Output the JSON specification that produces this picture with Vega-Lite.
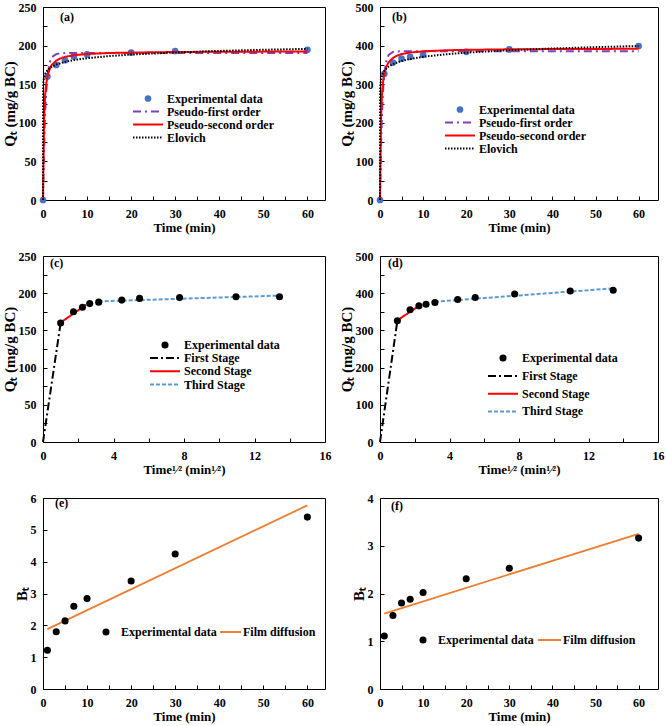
{
  "$schema": "https://vega.github.io/schema/vega-lite/v6.json",
  "background": "white",
  "padding": {"left": 1, "top": 0, "right": 0, "bottom": 0},
  "config": {
    "font": "Liberation Serif",
    "view": {"stroke": "black", "strokeWidth": 1},
    "axis": {
      "labelFont": "Liberation Serif", "labelFontWeight": "bold", "labelFontSize": 12, "labelColor": "black",
      "titleFont": "Liberation Serif", "titleFontWeight": "bold", "titleFontSize": 13, "titleColor": "black",
      "domain": false, "tickColor": "black", "tickSize": 4, "tickWidth": 1, "offset": -4, "grid": false,
      "labelFlush": false, "labelOverlap": false
    },
    "axisX": {"labelPadding": 8, "titlePadding": 2},
    "axisY": {"labelPadding": 7, "titlePadding": 1, "titleFontSize": 15},
    "legend": {
      "labelFont": "Liberation Serif", "labelFontWeight": "bold", "labelFontSize": 12, "labelColor": "black",
      "padding": 0, "orient": "none", "title": null
    },
    "title": {
      "font": "Liberation Serif", "fontWeight": "bold", "fontSize": 12, "color": "black",
      "anchor": "start", "frame": "group", "baseline": "top", "offset": 0
    }
  },
  "columns": 2,
  "bounds": "flush",
  "spacing": {"row": 56, "column": 55},
  "resolve": {
    "scale": {"x": "independent", "y": "independent", "fill": "independent", "stroke": "independent", "strokeDash": "independent"},
    "axis": {"x": "independent", "y": "independent"},
    "legend": {"fill": "independent", "stroke": "independent", "strokeDash": "independent"}
  },
  "concat": [
    {
      "width": 282, "height": 193,
      "title": {"text": "(a)", "dx": 17, "dy": 27},
      "layer": [
        {
          "data": {"values": [
            {"s": "Experimental data", "t": 0, "q": 0},
            {"s": "Experimental data", "t": 1, "q": 160},
            {"s": "Experimental data", "t": 3, "q": 175},
            {"s": "Experimental data", "t": 5, "q": 181},
            {"s": "Experimental data", "t": 7, "q": 186},
            {"s": "Experimental data", "t": 10, "q": 188.5},
            {"s": "Experimental data", "t": 20, "q": 191},
            {"s": "Experimental data", "t": 30, "q": 193},
            {"s": "Experimental data", "t": 60, "q": 194.5}
          ]},
          "mark": {"type": "point", "filled": true, "size": 45, "opacity": 1},
          "encoding": {
            "x": {"field": "t", "type": "quantitative", "scale": {"domain": [0, 64], "nice": false},
                  "axis": {"title": "Time (min)", "tickCount": 100, "format": "d", "labelOverlap": false, "values": [0,5,10,15,20,25,30,35,40,45,50,55,60], "labelExpr": "datum.value % 10 == 0 ? datum.label : ''"}},
            "y": {"field": "q", "type": "quantitative", "scale": {"domain": [0, 250], "nice": false},
                  "axis": {"title": "Qₜ (mg/g BC)", "tickCount": 100, "format": "d", "labelOverlap": false, "values": [0,25,50,75,100,125,150,175,200,225,250], "labelExpr": "datum.value % 50 == 0 ? datum.label : ''"}},
            "fill": {"field": "s", "type": "nominal", "scale": {"domain": ["Experimental data"], "range": ["#4472C4"]},
                     "legend": {"legendX": 99, "legendY": 85, "symbolType": "circle", "symbolSize": 45, "clipHeight": 13, "labelOffset": 13}}
          }
        },
        {
          "data": {"values": [
            {"s": "Pseudo-first order", "t": 0, "q": 0},
            {"s": "Pseudo-first order", "t": 0.25, "q": 70},
            {"s": "Pseudo-first order", "t": 0.5, "q": 115},
            {"s": "Pseudo-first order", "t": 0.75, "q": 142},
            {"s": "Pseudo-first order", "t": 1, "q": 160},
            {"s": "Pseudo-first order", "t": 1.5, "q": 178},
            {"s": "Pseudo-first order", "t": 2, "q": 185},
            {"s": "Pseudo-first order", "t": 3, "q": 189},
            {"s": "Pseudo-first order", "t": 4, "q": 190},
            {"s": "Pseudo-first order", "t": 6, "q": 190.5},
            {"s": "Pseudo-first order", "t": 60, "q": 190.5},
            {"s": "Pseudo-second order", "t": 0, "q": 0},
            {"s": "Pseudo-second order", "t": 0.25, "q": 106},
            {"s": "Pseudo-second order", "t": 0.5, "q": 137},
            {"s": "Pseudo-second order", "t": 0.75, "q": 151},
            {"s": "Pseudo-second order", "t": 1, "q": 160},
            {"s": "Pseudo-second order", "t": 1.5, "q": 169.7},
            {"s": "Pseudo-second order", "t": 2, "q": 175},
            {"s": "Pseudo-second order", "t": 3, "q": 180.6},
            {"s": "Pseudo-second order", "t": 4, "q": 183.5},
            {"s": "Pseudo-second order", "t": 5, "q": 185.4},
            {"s": "Pseudo-second order", "t": 7, "q": 187.5},
            {"s": "Pseudo-second order", "t": 10, "q": 189.1},
            {"s": "Pseudo-second order", "t": 15, "q": 190.4},
            {"s": "Pseudo-second order", "t": 20, "q": 191},
            {"s": "Pseudo-second order", "t": 30, "q": 191.7},
            {"s": "Pseudo-second order", "t": 40, "q": 192},
            {"s": "Pseudo-second order", "t": 50, "q": 192.2},
            {"s": "Pseudo-second order", "t": 60, "q": 192.3},
            {"s": "Elovich", "t": 0, "q": 0},
            {"s": "Elovich", "t": 0.02, "q": 141.4},
            {"s": "Elovich", "t": 0.05, "q": 147.6},
            {"s": "Elovich", "t": 0.1, "q": 152.3},
            {"s": "Elovich", "t": 0.2, "q": 157},
            {"s": "Elovich", "t": 0.5, "q": 163.3},
            {"s": "Elovich", "t": 1, "q": 168},
            {"s": "Elovich", "t": 2, "q": 172.7},
            {"s": "Elovich", "t": 3, "q": 175.5},
            {"s": "Elovich", "t": 5, "q": 178.9},
            {"s": "Elovich", "t": 7, "q": 181.2},
            {"s": "Elovich", "t": 10, "q": 183.7},
            {"s": "Elovich", "t": 15, "q": 186.4},
            {"s": "Elovich", "t": 20, "q": 188.4},
            {"s": "Elovich", "t": 30, "q": 191.1},
            {"s": "Elovich", "t": 40, "q": 193.1},
            {"s": "Elovich", "t": 50, "q": 194.6},
            {"s": "Elovich", "t": 60, "q": 195.8}
          ]},
          "mark": {"type": "line", "strokeWidth": 2},
          "encoding": {
            "x": {"field": "t", "type": "quantitative", "scale": {"domain": [0, 64], "nice": false}},
            "y": {"field": "q", "type": "quantitative", "scale": {"domain": [0, 250], "nice": false}},
            "stroke": {"field": "s", "type": "nominal", "scale": {"domain": ["Pseudo-first order", "Pseudo-second order", "Elovich"], "range": ["#7F3FBF", "#FF0000", "#000000"]},
                       "legend": {"legendX": 89, "legendY": 98, "symbolType": "stroke", "symbolSize": 900, "symbolStrokeWidth": 2, "clipHeight": 13, "rowPadding": 0, "labelOffset": 3}},
            "strokeDash": {"field": "s", "type": "nominal", "scale": {"domain": ["Pseudo-first order", "Pseudo-second order", "Elovich"], "range": [[8, 4, 2, 4], [1, 0], [1.5, 1.5]]},
                       "legend": {"legendX": 89, "legendY": 98, "symbolType": "stroke", "symbolSize": 900, "symbolStrokeWidth": 2, "clipHeight": 13, "rowPadding": 0, "labelOffset": 3}}
          }
        }
      ]
    },
    {
      "width": 278, "height": 193,
      "title": {"text": "(b)", "dx": 12, "dy": 27},
      "layer": [
        {
          "data": {"values": [
            {"s": "Experimental data", "t": 0, "q": 0},
            {"s": "Experimental data", "t": 1, "q": 327},
            {"s": "Experimental data", "t": 3, "q": 356},
            {"s": "Experimental data", "t": 5, "q": 366},
            {"s": "Experimental data", "t": 7, "q": 371},
            {"s": "Experimental data", "t": 10, "q": 376},
            {"s": "Experimental data", "t": 20, "q": 384},
            {"s": "Experimental data", "t": 30, "q": 390},
            {"s": "Experimental data", "t": 60, "q": 399}
          ]},
          "mark": {"type": "point", "filled": true, "size": 45, "opacity": 1},
          "encoding": {
            "x": {"field": "t", "type": "quantitative", "scale": {"domain": [0, 64.5], "nice": false},
                  "axis": {"title": "Time (min)", "tickCount": 100, "format": "d", "labelOverlap": false, "values": [0,5,10,15,20,25,30,35,40,45,50,55,60], "labelExpr": "datum.value % 10 == 0 ? datum.label : ''"}},
            "y": {"field": "q", "type": "quantitative", "scale": {"domain": [0, 500], "nice": false},
                  "axis": {"title": "Qₜ (mg/g BC)", "tickCount": 100, "format": "d", "labelOverlap": false, "values": [0,50,100,150,200,250,300,350,400,450,500], "labelExpr": "datum.value % 100 == 0 ? datum.label : ''"}},
            "fill": {"field": "s", "type": "nominal", "scale": {"domain": ["Experimental data"], "range": ["#4472C4"]},
                     "legend": {"legendX": 74, "legendY": 96, "symbolType": "circle", "symbolSize": 45, "clipHeight": 13, "labelOffset": 13}}
          }
        },
        {
          "data": {"values": [
            {"s": "Pseudo-first order", "t": 0, "q": 0},
            {"s": "Pseudo-first order", "t": 0.25, "q": 145},
            {"s": "Pseudo-first order", "t": 0.5, "q": 235},
            {"s": "Pseudo-first order", "t": 0.75, "q": 291},
            {"s": "Pseudo-first order", "t": 1, "q": 327},
            {"s": "Pseudo-first order", "t": 1.5, "q": 362},
            {"s": "Pseudo-first order", "t": 2, "q": 376},
            {"s": "Pseudo-first order", "t": 3, "q": 383.7},
            {"s": "Pseudo-first order", "t": 4, "q": 385},
            {"s": "Pseudo-first order", "t": 6, "q": 385.5},
            {"s": "Pseudo-first order", "t": 60, "q": 385.5},
            {"s": "Pseudo-second order", "t": 0, "q": 0},
            {"s": "Pseudo-second order", "t": 0.25, "q": 217},
            {"s": "Pseudo-second order", "t": 0.5, "q": 280},
            {"s": "Pseudo-second order", "t": 0.75, "q": 310},
            {"s": "Pseudo-second order", "t": 1, "q": 327},
            {"s": "Pseudo-second order", "t": 1.5, "q": 346.4},
            {"s": "Pseudo-second order", "t": 2, "q": 357},
            {"s": "Pseudo-second order", "t": 3, "q": 368},
            {"s": "Pseudo-second order", "t": 4, "q": 374},
            {"s": "Pseudo-second order", "t": 5, "q": 378},
            {"s": "Pseudo-second order", "t": 7, "q": 382},
            {"s": "Pseudo-second order", "t": 10, "q": 385},
            {"s": "Pseudo-second order", "t": 15, "q": 387.8},
            {"s": "Pseudo-second order", "t": 20, "q": 389},
            {"s": "Pseudo-second order", "t": 30, "q": 390.4},
            {"s": "Pseudo-second order", "t": 40, "q": 391},
            {"s": "Pseudo-second order", "t": 50, "q": 391.4},
            {"s": "Pseudo-second order", "t": 60, "q": 391.7},
            {"s": "Elovich", "t": 0, "q": 0},
            {"s": "Elovich", "t": 0.02, "q": 274},
            {"s": "Elovich", "t": 0.05, "q": 288},
            {"s": "Elovich", "t": 0.1, "q": 299},
            {"s": "Elovich", "t": 0.2, "q": 310},
            {"s": "Elovich", "t": 0.5, "q": 324.2},
            {"s": "Elovich", "t": 1, "q": 335},
            {"s": "Elovich", "t": 2, "q": 345.8},
            {"s": "Elovich", "t": 3, "q": 352.1},
            {"s": "Elovich", "t": 5, "q": 360.1},
            {"s": "Elovich", "t": 7, "q": 365.4},
            {"s": "Elovich", "t": 10, "q": 370.9},
            {"s": "Elovich", "t": 15, "q": 377.2},
            {"s": "Elovich", "t": 20, "q": 381.7},
            {"s": "Elovich", "t": 30, "q": 388.1},
            {"s": "Elovich", "t": 40, "q": 392.5},
            {"s": "Elovich", "t": 50, "q": 396},
            {"s": "Elovich", "t": 60, "q": 398.9}
          ]},
          "mark": {"type": "line", "strokeWidth": 2},
          "encoding": {
            "x": {"field": "t", "type": "quantitative", "scale": {"domain": [0, 64.5], "nice": false}},
            "y": {"field": "q", "type": "quantitative", "scale": {"domain": [0, 500], "nice": false}},
            "stroke": {"field": "s", "type": "nominal", "scale": {"domain": ["Pseudo-first order", "Pseudo-second order", "Elovich"], "range": ["#7F3FBF", "#FF0000", "#000000"]},
                       "legend": {"legendX": 64, "legendY": 109, "symbolType": "stroke", "symbolSize": 900, "symbolStrokeWidth": 2, "clipHeight": 13, "rowPadding": 0, "labelOffset": 3}},
            "strokeDash": {"field": "s", "type": "nominal", "scale": {"domain": ["Pseudo-first order", "Pseudo-second order", "Elovich"], "range": [[8, 4, 2, 4], [1, 0], [1.5, 1.5]]},
                       "legend": {"legendX": 64, "legendY": 109, "symbolType": "stroke", "symbolSize": 900, "symbolStrokeWidth": 2, "clipHeight": 13, "rowPadding": 0, "labelOffset": 3}}
          }
        }
      ]
    },
    {
      "width": 282, "height": 186,
      "title": {"text": "(c)", "dx": 7, "dy": 24},
      "layer": [
        {
          "data": {"values": [
            {"s": "First Stage", "t": 0, "q": 0},
            {"s": "First Stage", "t": 1, "q": 160},
            {"s": "Second Stage", "t": 1, "q": 160.5},
            {"s": "Second Stage", "t": 2.45, "q": 184.5},
            {"s": "Third Stage", "t": 3.16, "q": 189},
            {"s": "Third Stage", "t": 13.42, "q": 196.8}
          ]},
          "mark": {"type": "line", "strokeWidth": 2},
          "encoding": {
            "x": {"field": "t", "type": "quantitative", "scale": {"domain": [0, 16], "nice": false},
                  "axis": {"title": "Time¹⁄² (min¹⁄²)", "tickCount": 100, "format": "d", "labelOverlap": false, "values": [0,2,4,6,8,10,12,14,16], "labelExpr": "datum.value % 4 == 0 ? datum.label : ''"}},
            "y": {"field": "q", "type": "quantitative", "scale": {"domain": [0, 250], "nice": false},
                  "axis": {"title": "Qₜ (mg/g BC)", "tickCount": 100, "format": "d", "labelOverlap": false, "values": [0,25,50,75,100,125,150,175,200,225,250], "labelExpr": "datum.value % 50 == 0 ? datum.label : ''"}},
            "stroke": {"field": "s", "type": "nominal", "scale": {"domain": ["First Stage", "Second Stage", "Third Stage"], "range": ["#000000", "#FF0000", "#5B9BD5"]},
                       "legend": {"legendX": 106, "legendY": 95.5, "symbolType": "stroke", "symbolSize": 900, "symbolStrokeWidth": 2, "clipHeight": 13, "rowPadding": 0.3, "labelOffset": 3}},
            "strokeDash": {"field": "s", "type": "nominal", "scale": {"domain": ["First Stage", "Second Stage", "Third Stage"], "range": [[8, 3, 2, 3], [1, 0], [4, 2]]},
                       "legend": {"legendX": 106, "legendY": 95.5, "symbolType": "stroke", "symbolSize": 900, "symbolStrokeWidth": 2, "clipHeight": 13, "rowPadding": 0.3, "labelOffset": 3}}
          }
        },
        {
          "data": {"values": [
            {"s": "Experimental data", "t": 1, "q": 160},
            {"s": "Experimental data", "t": 1.73, "q": 175},
            {"s": "Experimental data", "t": 2.24, "q": 181},
            {"s": "Experimental data", "t": 2.65, "q": 186},
            {"s": "Experimental data", "t": 3.16, "q": 188},
            {"s": "Experimental data", "t": 4.47, "q": 190.7},
            {"s": "Experimental data", "t": 5.48, "q": 193},
            {"s": "Experimental data", "t": 7.75, "q": 194.3},
            {"s": "Experimental data", "t": 10.95, "q": 195.2},
            {"s": "Experimental data", "t": 13.42, "q": 195.2}
          ]},
          "mark": {"type": "point", "filled": true, "size": 50, "opacity": 1},
          "encoding": {
            "x": {"field": "t", "type": "quantitative", "scale": {"domain": [0, 16], "nice": false}},
            "y": {"field": "q", "type": "quantitative", "scale": {"domain": [0, 250], "nice": false}},
            "fill": {"field": "s", "type": "nominal", "scale": {"domain": ["Experimental data"], "range": ["#000000"]},
                     "legend": {"legendX": 116, "legendY": 82.5, "symbolType": "circle", "symbolSize": 50, "clipHeight": 13, "labelOffset": 13}}
          }
        }
      ]
    },
    {
      "width": 278, "height": 186,
      "title": {"text": "(d)", "dx": 8, "dy": 24},
      "layer": [
        {
          "data": {"values": [
            {"s": "First Stage", "t": 0, "q": 0},
            {"s": "First Stage", "t": 1, "q": 326},
            {"s": "Second Stage", "t": 1, "q": 327},
            {"s": "Second Stage", "t": 2.24, "q": 366},
            {"s": "Third Stage", "t": 3.16, "q": 377},
            {"s": "Third Stage", "t": 13.42, "q": 413}
          ]},
          "mark": {"type": "line", "strokeWidth": 2},
          "encoding": {
            "x": {"field": "t", "type": "quantitative", "scale": {"domain": [0, 16], "nice": false},
                  "axis": {"title": "Time¹⁄² (min¹⁄²)", "tickCount": 100, "format": "d", "labelOverlap": false, "values": [0,2,4,6,8,10,12,14,16], "labelExpr": "datum.value % 4 == 0 ? datum.label : ''"}},
            "y": {"field": "q", "type": "quantitative", "scale": {"domain": [0, 500], "nice": false},
                  "axis": {"title": "Qₜ (mg/g BC)", "tickCount": 100, "format": "d", "labelOverlap": false, "values": [0,50,100,150,200,250,300,350,400,450,500], "labelExpr": "datum.value % 100 == 0 ? datum.label : ''"}},
            "stroke": {"field": "s", "type": "nominal", "scale": {"domain": ["First Stage", "Second Stage", "Third Stage"], "range": ["#000000", "#FF0000", "#5B9BD5"]},
                       "legend": {"legendX": 107, "legendY": 113.5, "symbolType": "stroke", "symbolSize": 900, "symbolStrokeWidth": 2, "clipHeight": 13, "rowPadding": 4.7, "labelOffset": 3}},
            "strokeDash": {"field": "s", "type": "nominal", "scale": {"domain": ["First Stage", "Second Stage", "Third Stage"], "range": [[8, 3, 2, 3], [1, 0], [4, 2]]},
                       "legend": {"legendX": 107, "legendY": 113.5, "symbolType": "stroke", "symbolSize": 900, "symbolStrokeWidth": 2, "clipHeight": 13, "rowPadding": 4.7, "labelOffset": 3}}
          }
        },
        {
          "data": {"values": [
            {"s": "Experimental data", "t": 1, "q": 326},
            {"s": "Experimental data", "t": 1.73, "q": 355.5},
            {"s": "Experimental data", "t": 2.24, "q": 366},
            {"s": "Experimental data", "t": 2.65, "q": 370.5},
            {"s": "Experimental data", "t": 3.16, "q": 375},
            {"s": "Experimental data", "t": 4.47, "q": 383},
            {"s": "Experimental data", "t": 5.48, "q": 388.5},
            {"s": "Experimental data", "t": 7.75, "q": 398},
            {"s": "Experimental data", "t": 10.95, "q": 406},
            {"s": "Experimental data", "t": 13.42, "q": 408}
          ]},
          "mark": {"type": "point", "filled": true, "size": 50, "opacity": 1},
          "encoding": {
            "x": {"field": "t", "type": "quantitative", "scale": {"domain": [0, 16], "nice": false}},
            "y": {"field": "q", "type": "quantitative", "scale": {"domain": [0, 500], "nice": false}},
            "fill": {"field": "s", "type": "nominal", "scale": {"domain": ["Experimental data"], "range": ["#000000"]},
                     "legend": {"legendX": 117, "legendY": 95.5, "symbolType": "circle", "symbolSize": 50, "clipHeight": 13, "labelOffset": 13}}
          }
        }
      ]
    },
    {
      "width": 282, "height": 191,
      "title": {"text": "(e)", "dx": 12, "dy": 22},
      "layer": [
        {
          "data": {"values": [
            {"s": "Film diffusion", "t": 1, "b": 1.88},
            {"s": "Film diffusion", "t": 60, "b": 5.77}
          ]},
          "mark": {"type": "line", "strokeWidth": 1.8},
          "encoding": {
            "x": {"field": "t", "type": "quantitative", "scale": {"domain": [0, 64], "nice": false},
                  "axis": {"title": "Time (min)", "tickCount": 100, "format": "d", "labelOverlap": false, "values": [0,5,10,15,20,25,30,35,40,45,50,55,60], "labelExpr": "datum.value % 10 == 0 ? datum.label : ''"}},
            "y": {"field": "b", "type": "quantitative", "scale": {"domain": [0, 6], "nice": false},
                  "axis": {"title": "Bₜ", "tickCount": 100, "format": "d", "labelOverlap": false, "values": [0,0.5,1,1.5,2,2.5,3,3.5,4,4.5,5,5.5,6], "labelExpr": "datum.value % 1 == 0 ? datum.label : ''"}},
            "stroke": {"field": "s", "type": "nominal", "scale": {"domain": ["Film diffusion"], "range": ["#ED7D31"]},
                       "legend": {"legendX": 176, "legendY": 127.5, "symbolType": "stroke", "symbolSize": 441, "symbolStrokeWidth": 2, "clipHeight": 13, "labelOffset": 1}}
          }
        },
        {
          "data": {"values": [
            {"s": "Experimental data", "t": 1, "b": 1.22},
            {"s": "Experimental data", "t": 3, "b": 1.8},
            {"s": "Experimental data", "t": 5, "b": 2.14},
            {"s": "Experimental data", "t": 7, "b": 2.6},
            {"s": "Experimental data", "t": 10, "b": 2.84},
            {"s": "Experimental data", "t": 20, "b": 3.39},
            {"s": "Experimental data", "t": 30, "b": 4.24},
            {"s": "Experimental data", "t": 60, "b": 5.4}
          ]},
          "mark": {"type": "point", "filled": true, "size": 50, "opacity": 1},
          "encoding": {
            "x": {"field": "t", "type": "quantitative", "scale": {"domain": [0, 64], "nice": false}},
            "y": {"field": "b", "type": "quantitative", "scale": {"domain": [0, 6], "nice": false}},
            "fill": {"field": "s", "type": "nominal", "scale": {"domain": ["Experimental data"], "range": ["#000000"]},
                     "legend": {"legendX": 57, "legendY": 127.5, "symbolType": "circle", "symbolSize": 50, "clipHeight": 13, "labelOffset": 9}}
          }
        }
      ]
    },
    {
      "width": 278, "height": 191,
      "title": {"text": "(f)", "dx": 11, "dy": 25},
      "layer": [
        {
          "data": {"values": [
            {"s": "Film diffusion", "t": 1, "b": 1.58},
            {"s": "Film diffusion", "t": 60, "b": 3.25}
          ]},
          "mark": {"type": "line", "strokeWidth": 1.8},
          "encoding": {
            "x": {"field": "t", "type": "quantitative", "scale": {"domain": [0, 64.5], "nice": false},
                  "axis": {"title": "Time (min)", "tickCount": 100, "format": "d", "labelOverlap": false, "values": [0,5,10,15,20,25,30,35,40,45,50,55,60], "labelExpr": "datum.value % 10 == 0 ? datum.label : ''"}},
            "y": {"field": "b", "type": "quantitative", "scale": {"domain": [0, 4], "nice": false},
                  "axis": {"title": "Bₜ", "tickCount": 100, "format": "d", "labelOverlap": false, "values": [0,0.5,1,1.5,2,2.5,3,3.5,4], "labelExpr": "datum.value % 1 == 0 ? datum.label : ''"}},
            "stroke": {"field": "s", "type": "nominal", "scale": {"domain": ["Film diffusion"], "range": ["#ED7D31"]},
                       "legend": {"legendX": 157, "legendY": 135.5, "symbolType": "stroke", "symbolSize": 529, "symbolStrokeWidth": 2, "clipHeight": 13, "labelOffset": 1}}
          }
        },
        {
          "data": {"values": [
            {"s": "Experimental data", "t": 1, "b": 1.11},
            {"s": "Experimental data", "t": 3, "b": 1.54},
            {"s": "Experimental data", "t": 5, "b": 1.8},
            {"s": "Experimental data", "t": 7, "b": 1.88},
            {"s": "Experimental data", "t": 10, "b": 2.02},
            {"s": "Experimental data", "t": 20, "b": 2.31},
            {"s": "Experimental data", "t": 30, "b": 2.53},
            {"s": "Experimental data", "t": 60, "b": 3.16}
          ]},
          "mark": {"type": "point", "filled": true, "size": 50, "opacity": 1},
          "encoding": {
            "x": {"field": "t", "type": "quantitative", "scale": {"domain": [0, 64.5], "nice": false}},
            "y": {"field": "b", "type": "quantitative", "scale": {"domain": [0, 4], "nice": false}},
            "fill": {"field": "s", "type": "nominal", "scale": {"domain": ["Experimental data"], "range": ["#000000"]},
                     "legend": {"legendX": 37, "legendY": 135.5, "symbolType": "circle", "symbolSize": 50, "clipHeight": 13, "labelOffset": 9}}
          }
        }
      ]
    }
  ]
}
